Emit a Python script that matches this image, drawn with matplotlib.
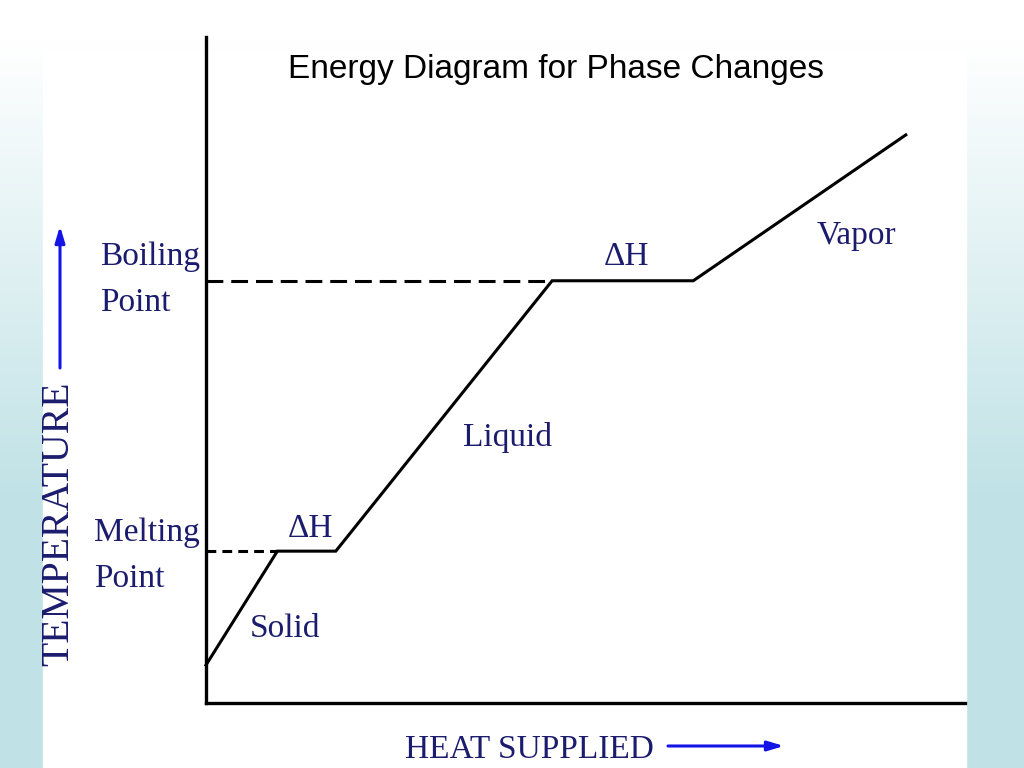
import matplotlib

matplotlib.use("Agg")
import matplotlib.pyplot as plt
import numpy as np
from matplotlib.patches import FancyArrowPatch, Rectangle

# heat supplied vs temperature (arbitrary units, 0-100 on both axes)
heat = [0, 9.4, 17.1, 45.6, 64.2, 92.2]
temperature = [5.7, 22.8, 22.8, 63.4, 63.4, 85.3]
melting_point = 22.8
boiling_point = 63.4
melt_start = 9.4
boil_start = 45.6

W, H = 1024, 768
NAVY = "#1c1c6e"
BLUE = "#1414e6"
SERIF = "Liberation Serif"


def fx(px):
    return px / W


def fy(py):
    return 1 - py / H


fig = plt.figure(figsize=(W / 100, H / 100), dpi=100)

# slide background: white at top fading to pale teal, white panel in middle
bg = fig.add_axes([0, 0, 1, 1], zorder=-5)
rows = np.clip((np.arange(H) - 40) / 460, 0, 1)[:, None]
white = np.array([1.0, 1.0, 1.0])
teal = np.array([192, 226, 230]) / 255
grad = white[None, None, :] * (1 - rows[..., None]) + teal[None, None, :] * rows[..., None]
grad = np.repeat(grad, 4, axis=1)
bg.imshow(grad, extent=[0, W, H, 0], aspect="auto")
bg.add_patch(Rectangle((43, 50), 923, H - 50, color="white"))
bg.set_xlim(0, W)
bg.set_ylim(H, 0)
bg.axis("off")

ax = fig.add_axes([fx(206), fy(703), (965 - 206) / W, (703 - 37) / H])
ax.set_xlim(0, 100)
ax.set_ylim(0, 100)
ax.patch.set_alpha(0)
for side in ("top", "right"):
    ax.spines[side].set_visible(False)
for side in ("left", "bottom"):
    ax.spines[side].set_linewidth(2.4)
ax.set_xticks([])
ax.set_yticks([])

ax.plot(heat, temperature, color="black", lw=2.2, solid_joinstyle="miter", clip_on=False)
ax.plot([0, boil_start], [boiling_point, boiling_point], color="black", lw=2.2,
        dashes=(5.5, 2.6))
ax.plot([0, melt_start], [melting_point, melting_point], color="black", lw=2.2,
        dashes=(3.2, 2.0))

label_kw = dict(family=SERIF, color=NAVY, fontsize=24, va="baseline", ha="left")
ax.text(10.8, 24.9, "ΔH", **label_kw)
ax.text(52.4, 65.8, "ΔH", **label_kw)
ax.text(5.8, 9.9, "Solid", **label_kw)
ax.text(33.8, 38.6, "Liquid", **label_kw)
ax.text(80.4, 68.9, "Vapor", **label_kw)

fig.text(fx(100), fy(265), "Boiling", **label_kw)
fig.text(fx(100), fy(311), "Point", **label_kw)
fig.text(fx(94), fy(541), "Melting", **label_kw)
fig.text(fx(94), fy(587), "Point", **label_kw)

fig.text(fx(556), fy(78), "Energy Diagram for Phase Changes", family="Liberation Sans",
         fontsize=24, color="black", ha="center", va="baseline")

fig.text(fx(77), fy(524), "TEMPERATURE", family=SERIF, color=NAVY, fontsize=28.5,
         rotation=90, ha="right", va="center")
fig.text(fx(405), fy(758), "HEAT SUPPLIED", family=SERIF, color=NAVY, fontsize=24,
         ha="left", va="baseline")

arrow = dict(arrowstyle="-|>,head_length=0.6,head_width=0.18", color=BLUE, lw=2.2,
             shrinkA=0, shrinkB=0, mutation_scale=16)
fig.add_artist(FancyArrowPatch(
    (fx(60), fy(368)), (fx(60), fy(226)), transform=fig.transFigure, **arrow))
fig.add_artist(FancyArrowPatch(
    (fx(668), fy(746)), (fx(784), fy(746)), transform=fig.transFigure, **arrow))

fig.savefig("out.png", dpi=100)
